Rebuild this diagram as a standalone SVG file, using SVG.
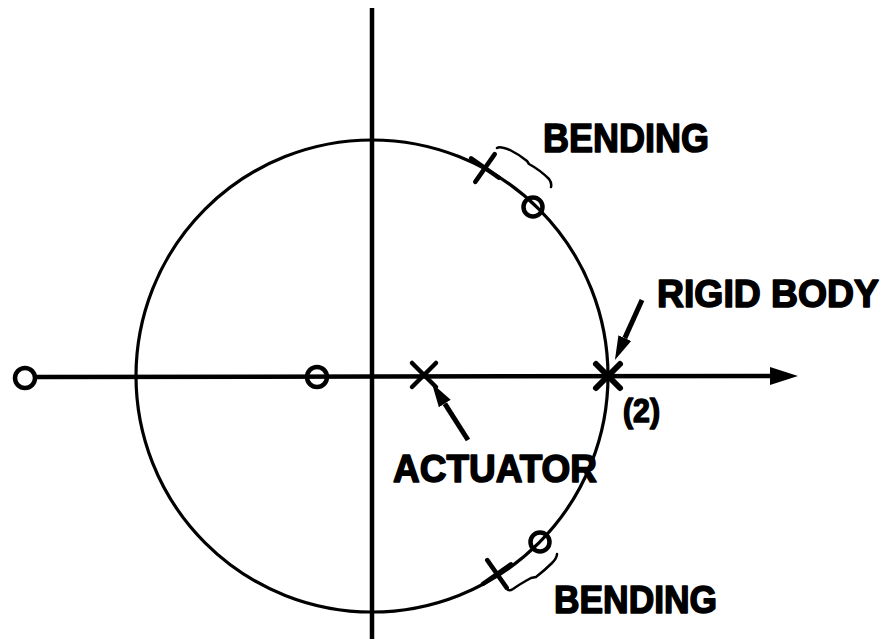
<svg xmlns="http://www.w3.org/2000/svg" xmlns:xlink="http://www.w3.org/1999/xlink" width="892" height="639" viewBox="0 0 892 639">
<style>
.ax{stroke:#000;stroke-width:4.5;fill:none}
.circ{stroke:#000;stroke-width:3.2;fill:none}
.zero{stroke:#000;stroke-width:4.5;fill:none}
.pole{stroke:#000;stroke-width:4.5;stroke-linecap:round;fill:none}
.ptr{stroke:#000;stroke-width:5;fill:none}
.brace{stroke:#000;stroke-width:2.5;fill:none;stroke-linecap:round;stroke-linejoin:round}
.lbl{font-family:"Liberation Sans",Arial,sans-serif;font-weight:bold;fill:#000;stroke:#000;stroke-width:1.6;stroke-linejoin:round}
</style>
<defs>
<marker id="ah" markerUnits="userSpaceOnUse" viewBox="0 -8 26 16" refX="0" refY="0" markerWidth="26" markerHeight="16" orient="auto">
<path d="M0,-7 L24,0 L0,7 Z" fill="#000"/>
</marker>
<marker id="axh" markerUnits="userSpaceOnUse" viewBox="0 -10 30 20" refX="0" refY="0" markerWidth="30" markerHeight="20" orient="auto">
<path d="M0,-9 L28,0 L0,9 Z" fill="#000"/>
</marker>
<g id="xm"><path d="M-12,-12 L12,12 M12,-12 L-12,12"/></g>
</defs>

<g id="connectors">
<line class="ax" x1="372" y1="8" x2="372" y2="639"/>
<line class="ax" x1="36" y1="377" x2="770" y2="376" marker-end="url(#axh)"/>
<line class="ptr" x1="468" y1="440" x2="444.8" y2="403.6" marker-end="url(#ah)"/>
<line class="ptr" x1="642" y1="300" x2="624.8" y2="338.1" marker-end="url(#ah)"/>
</g>

<g id="unit-circle">
<circle class="circ" cx="372" cy="376" r="236"/>
</g>

<g id="zero-left">
<circle class="zero" cx="25" cy="378" r="10"/>
</g>
<g id="zero-real">
<circle class="zero" cx="317" cy="377" r="10"/>
</g>
<g id="pole-actuator">
<use href="#xm" class="pole" transform="translate(424,375)"/>
</g>
<g id="pole-rigid">
<use href="#xm" class="pole" style="stroke-width:6" transform="translate(608,376)"/>
<circle cx="608" cy="376" r="5" fill="#000"/>
</g>
<g id="bending-top">
<use href="#xm" class="pole" transform="translate(485,168) rotate(-10)"/>
<circle class="zero" cx="533" cy="207" r="9.5"/>
<path class="brace" d="M497,148 Q500,146 510,150 Q520,155 527,161 L529,164 Q540,170 549,179 Q552,183 551,187"/>
</g>
<g id="bending-bottom">
<use href="#xm" class="pole" transform="translate(497,574) rotate(10)"/>
<circle class="zero" cx="540" cy="542" r="9.5"/>
<path class="brace" d="M557,554 Q557,558 552,563 Q545,570 536,577 L531,578 Q520,584 513,589 Q510,591 508,590"/>
</g>

<g id="labels">
<text class="lbl" x="543" y="152" font-size="41" textLength="166" lengthAdjust="spacingAndGlyphs">BENDING</text>
<text class="lbl" x="657" y="307" font-size="38.5" textLength="222" lengthAdjust="spacingAndGlyphs">RIGID BODY</text>
<text class="lbl" x="623" y="422" font-size="34" textLength="37" lengthAdjust="spacingAndGlyphs">(2)</text>
<text class="lbl" x="393" y="482" font-size="38" textLength="204" lengthAdjust="spacingAndGlyphs">ACTUATOR</text>
<text class="lbl" x="554" y="613" font-size="39" textLength="163" lengthAdjust="spacingAndGlyphs">BENDING</text>
</g>
</svg>
